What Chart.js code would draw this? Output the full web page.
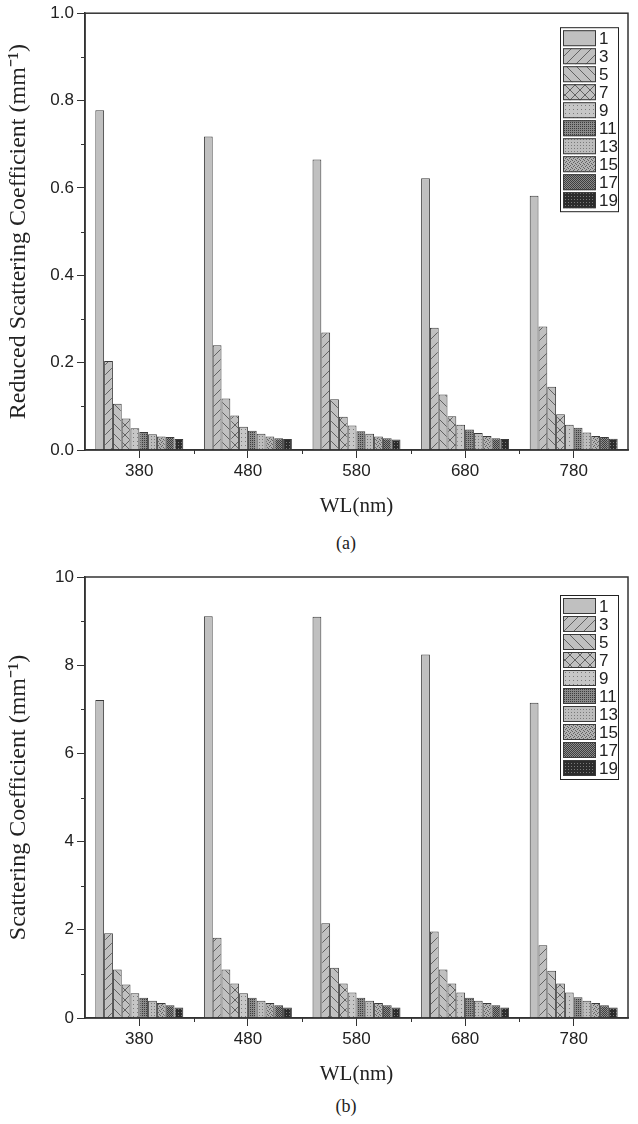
<!DOCTYPE html>
<html>
<head>
<meta charset="utf-8">
<script src="https://cdn.jsdelivr.net/npm/chart.js@4.4.1/dist/chart.umd.min.js"></script>
<style>
  body { margin: 0; background: #fff; width: 638px; height: 1124px; position: relative; overflow: hidden; }
  .wrap { position: absolute; left: 0; width: 638px; }
  .cap { position: absolute; left: 296px; width: 100px; text-align: center;
         font-family: 'Liberation Serif', 'Times New Roman', serif; font-size: 18px; color: #222; }
</style>
</head>
<body>
<div class="wrap" style="top:0;height:522px"><canvas id="chartA" width="638" height="522"></canvas></div>
<div class="cap" style="top:533px">(a)</div>
<div class="wrap" style="top:555px;height:535px"><canvas id="chartB" width="638" height="535"></canvas></div>
<div class="cap" style="top:1096px">(b)</div>
<script>
// wavelengths (nm) and sample labels
const wavelengths = ['380', '480', '580', '680', '780'];
const sampleLabels = ['1', '3', '5', '7', '9', '11', '13', '15', '17', '19'];

// (a) reduced scattering coefficient, one array per wavelength, samples 1..19
const reduced380 = [0.778, 0.204, 0.106, 0.072, 0.050, 0.041, 0.036, 0.031, 0.030, 0.025];
const reduced480 = [0.718, 0.240, 0.118, 0.079, 0.053, 0.044, 0.037, 0.031, 0.027, 0.025];
const reduced580 = [0.665, 0.269, 0.116, 0.076, 0.056, 0.043, 0.037, 0.031, 0.027, 0.024];
const reduced680 = [0.622, 0.280, 0.127, 0.077, 0.058, 0.047, 0.039, 0.032, 0.027, 0.025];
const reduced780 = [0.582, 0.283, 0.145, 0.082, 0.058, 0.051, 0.040, 0.032, 0.030, 0.026];

// (b) scattering coefficient
const scatter380 = [7.21, 1.92, 1.10, 0.76, 0.56, 0.46, 0.39, 0.34, 0.29, 0.24];
const scatter480 = [9.11, 1.82, 1.10, 0.78, 0.56, 0.46, 0.39, 0.34, 0.29, 0.24];
const scatter580 = [9.10, 2.15, 1.14, 0.78, 0.58, 0.46, 0.39, 0.34, 0.29, 0.24];
const scatter680 = [8.24, 1.96, 1.10, 0.78, 0.58, 0.46, 0.39, 0.34, 0.29, 0.24];
const scatter780 = [7.15, 1.65, 1.07, 0.78, 0.58, 0.47, 0.39, 0.34, 0.29, 0.24];

const reducedTicks = [0, 0.2, 0.4, 0.6, 0.8, 1.0];
const scatterTicks = [0, 2, 4, 6, 8, 10];

const sansFont = "'Liberation Sans', Arial, sans-serif";
const serifFont = "'Liberation Serif', 'Times New Roman', serif";

// Fill patterns, one per sample
function makePattern(kind) {
    if (kind === 'solid') return '#c0c0c0';
    const c = document.createElement('canvas');
    const g = c.getContext('2d');
    function px(size, bg, fg, dots) {
        c.width = c.height = size;
        g.fillStyle = bg; g.fillRect(0, 0, size, size);
        g.fillStyle = fg;
        dots.forEach(d => g.fillRect(d[0], d[1], 1, 1));
    }
    if (kind === 'fdiag' || kind === 'bdiag' || kind === 'cross') {
        c.width = c.height = 10;
        g.fillStyle = '#c0c0c0'; g.fillRect(0, 0, 10, 10);
        g.strokeStyle = '#4a4a4a'; g.lineWidth = 0.8;
        g.beginPath();
        if (kind !== 'bdiag') {
            g.moveTo(-1, 11); g.lineTo(11, -1);
        }
        if (kind !== 'fdiag') {
            g.moveTo(-1, -1); g.lineTo(11, 11);
        }
        g.stroke();
    } else if (kind === 'dots') {
        px(4, '#c6c6c6', '#7a7a7a', [[1, 1]]);
    } else if (kind === 'dense') {
        px(2, '#8a8a8a', '#3c3c3c', [[0, 0]]);
    } else if (kind === 'dots2') {
        px(3, '#bdbdbd', '#7a7a7a', [[1, 1]]);
    } else if (kind === 'wave') {
        px(4, '#b2b2b2', '#626262', [[0, 0], [2, 1], [1, 2], [3, 3]]);
    } else if (kind === 'dark') {
        px(2, '#8a8a8a', '#3e3e3e', [[0, 0], [1, 1]]);
    } else if (kind === 'black') {
        px(3, '#2c2c2c', '#7a7a7a', [[1, 1]]);
    }
    return g.createPattern(c, 'repeat');
}
const patternKinds = ['solid', 'fdiag', 'bdiag', 'cross', 'dots', 'dense', 'dots2', 'wave', 'dark', 'black'];
const fills = patternKinds.map(makePattern);

function buildDatasets(byWavelength) {
    return sampleLabels.map((lab, i) => ({
        label: lab,
        data: byWavelength.map(arr => arr[i]),
        backgroundColor: fills[i],
        borderColor: '#3a3a3a',
        borderWidth: 1,
        barPercentage: 1.0,
        categoryPercentage: 0.81
    }));
}

// frame, minor ticks and the boxed legend
const framePlugin = {
    id: 'frame',
    afterDraw(chart, args, opts) {
        const ctx = chart.ctx;
        const a = chart.chartArea;
        const xs = chart.scales.x, ys = chart.scales.y;
        ctx.save();
        ctx.strokeStyle = '#333';
        ctx.lineWidth = 1.5;
        ctx.strokeRect(a.left, a.top, a.right - a.left, a.bottom - a.top);

        // minor ticks
        ctx.lineWidth = 1;
        ctx.beginPath();
        const step = opts.minorStep;
        for (let v = step; v < ys.max; v += 2 * step) {
            const y = Math.round(ys.getPixelForValue(v)) + 0.5;
            ctx.moveTo(a.left - 4, y); ctx.lineTo(a.left, y);
        }
        for (let i = 0; i < wavelengths.length - 1; i++) {
            const x = Math.round((xs.getPixelForValue(i) + xs.getPixelForValue(i + 1)) / 2) + 0.5;
            ctx.moveTo(x, a.bottom); ctx.lineTo(x, a.bottom + 4);
        }
        ctx.stroke();

        // legend box
        const bx = a.right - 68, by = a.top + opts.legendTop;
        const rowH = 18, n = chart.data.datasets.length;
        ctx.fillStyle = '#fff';
        ctx.fillRect(bx, by, 58, n * rowH + 4);
        ctx.strokeStyle = '#222';
        ctx.lineWidth = 1;
        ctx.strokeRect(bx + 0.5, by + 0.5, 58, n * rowH + 4);
        ctx.font = '17px ' + sansFont;
        ctx.textBaseline = 'middle';
        chart.data.datasets.forEach((ds, i) => {
            const ry = by + 3 + i * rowH;
            ctx.fillStyle = ds.backgroundColor;
            ctx.fillRect(bx + 3, ry, 33, 16);
            ctx.strokeStyle = '#3a3a3a';
            ctx.strokeRect(bx + 3.5, ry + 0.5, 32, 15);
            ctx.fillStyle = '#222';
            ctx.fillText(ds.label, bx + 39, ry + 9);
        });
        ctx.restore();
    }
};

function makeChart(id, byWavelength, yMax, yStep, yTicks, yTitle, legendTop, padTop) {
    return new Chart(document.getElementById(id), {
        type: 'bar',
        data: { labels: wavelengths, datasets: buildDatasets(byWavelength) },
        plugins: [framePlugin],
        options: {
            responsive: false,
            animation: false,
            layout: { padding: { left: 4, right: 10, top: padTop, bottom: 0 } },
            plugins: {
                legend: { display: false },
                tooltip: { enabled: false },
                frame: { minorStep: yStep / 2, legendTop: legendTop }
            },
            scales: {
                x: {
                    offset: true,
                    grid: { display: true, drawOnChartArea: false, offset: false, tickLength: 8, color: '#333', lineWidth: 1 },
                    border: { display: true, color: '#333', width: 1.5 },
                    ticks: { color: '#222', font: { family: sansFont, size: 17 }, padding: 3, maxRotation: 0 },
                    title: { display: true, text: 'WL(nm)', color: '#222', font: { family: serifFont, size: 21 }, padding: { top: 4, bottom: 3 } },
                    afterFit: s => { s.height = 72; }
                },
                y: {
                    min: 0, max: yMax,
                    afterBuildTicks: s => { s.ticks = yTicks.map(v => ({ value: v })); },
                    grid: { display: true, drawOnChartArea: false, tickLength: 8, color: '#333', lineWidth: 1 },
                    border: { display: true, color: '#333', width: 1.5 },
                    ticks: {
                        color: '#222', font: { family: sansFont, size: 17 }, padding: 3,
                        callback: v => yMax < 5 ? v.toFixed(1) : String(v)
                    },
                    title: { display: true, text: yTitle, color: '#222', font: { family: serifFont, size: 24 }, padding: { top: 0, bottom: 2 } },
                    afterFit: s => { s.width = 81; }
                }
            }
        }
    });
}

makeChart('chartA', [reduced380, reduced480, reduced580, reduced680, reduced780],
    1.0, 0.2, reducedTicks, 'Reduced Scattering Coefficient (mm\u207B\u00B9)', 14, 13);
makeChart('chartB', [scatter380, scatter480, scatter580, scatter680, scatter780],
    10, 2, scatterTicks, 'Scattering Coefficient (mm\u207B\u00B9)', 18, 22);
</script>
</body>
</html>
